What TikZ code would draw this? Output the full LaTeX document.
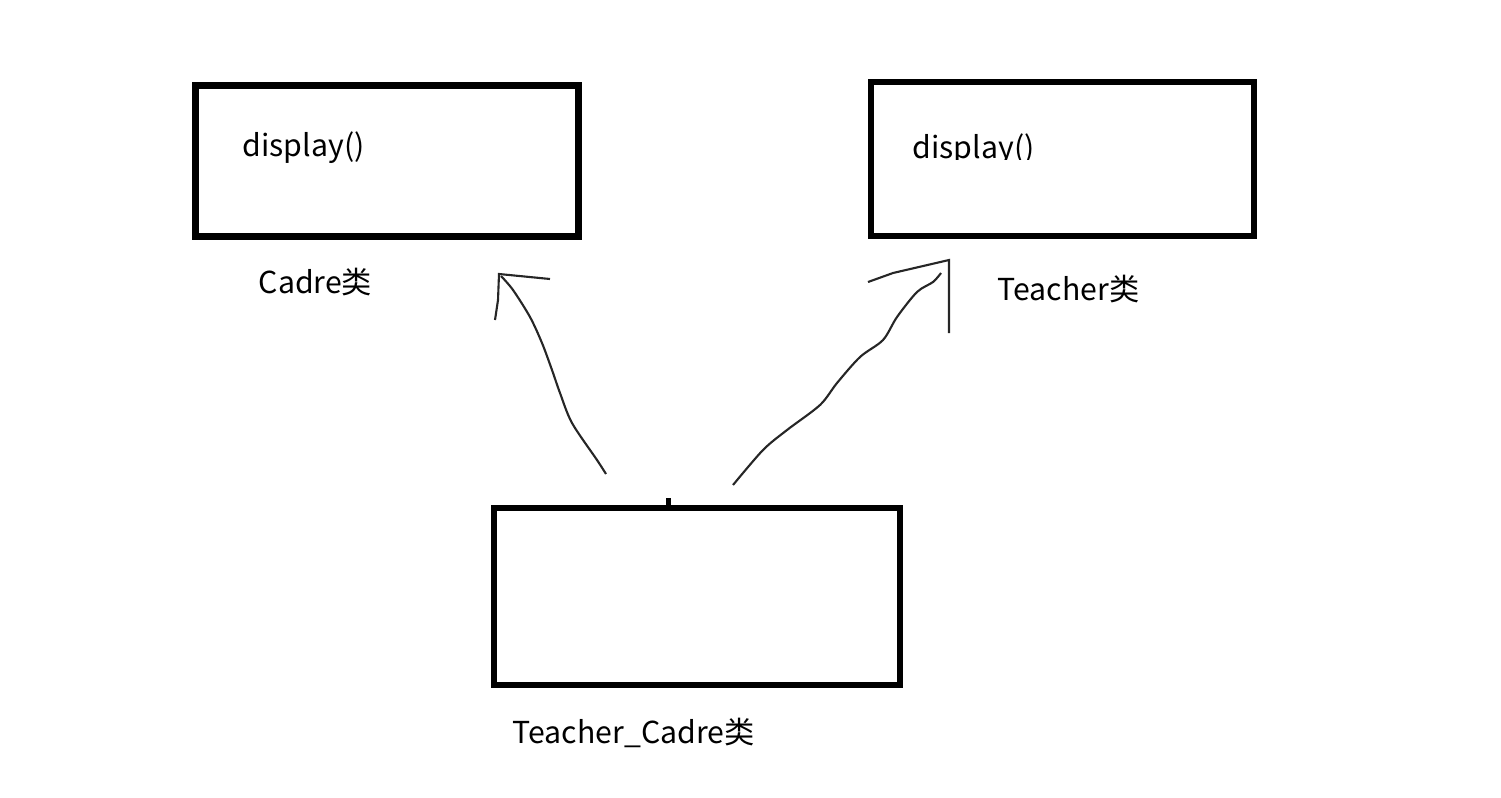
\documentclass[tikz,border=0pt]{standalone}
\usepackage{fontspec}
\setmainfont{Noto Sans CJK SC}
\usetikzlibrary{positioning}

\begin{document}
\begin{tikzpicture}[x=0.01cm, y=-0.01cm,
	cls/.style={draw, line width=1.9pt, rectangle, inner sep=0pt},
	lbl/.style={anchor=base west, inner sep=0pt, font=\fontsize{8.6}{10}\selectfont},
	hand/.style={line width=0.6pt, draw=black!85}]
	\useasboundingbox (0,0) rectangle (1501,797);
	\node[cls, minimum width=3.83cm, minimum height=1.51cm] (cadre) at (387,161) {};
	\node[cls, minimum width=3.83cm, minimum height=1.54cm] (teacher) at (1062.5,159) {};
	\node[cls, minimum width=4.06cm, minimum height=1.77cm] (teacherCadre) at (697,596.5) {};
	\fill (666,498) rectangle (671,506);
	\node[lbl] (cadreFn) at (242,156) {display()};
	\begin{scope}
		\clip (880,100) rectangle (1100,159);
		\node[lbl] (teacherFn) at (912,158) {display()};
	\end{scope}
	\node[lbl] (cadreName) at (258,293) {Cadre类};
	\node[lbl] (teacherName) at (997,300) {Teacher类};
	\node[lbl] (teacherCadreName) at (512,743) {Teacher\_Cadre类};
	% hand drawn arrows
	\coordinate (leftStart) at (606,474);
	\coordinate (leftEnd) at (501,276);
	\coordinate (leftTip) at (499,274);
	\coordinate (rightStart) at (733,485);
	\coordinate (rightEnd) at (941,273);
	\coordinate (rightTip) at (949,260);
	\draw[hand] plot[smooth] coordinates {(leftStart) (597,460) (572,423) (560,393)
		(552,370) (542,343) (530,317) (513,290) (leftEnd)};
	\draw[hand] (495,320) -- (498,300) -- (leftTip) -- (550,279);
	\draw[hand] plot[smooth] coordinates {(rightStart) (763,450) (787,430) (820,405)
		(837,383) (860,357) (883,340) (897,317) (917,292) (933,282) (rightEnd)};
	\draw[hand] (868,282) -- (893,273) -- (rightTip) -- (949,333);
\end{tikzpicture}
\end{document}
